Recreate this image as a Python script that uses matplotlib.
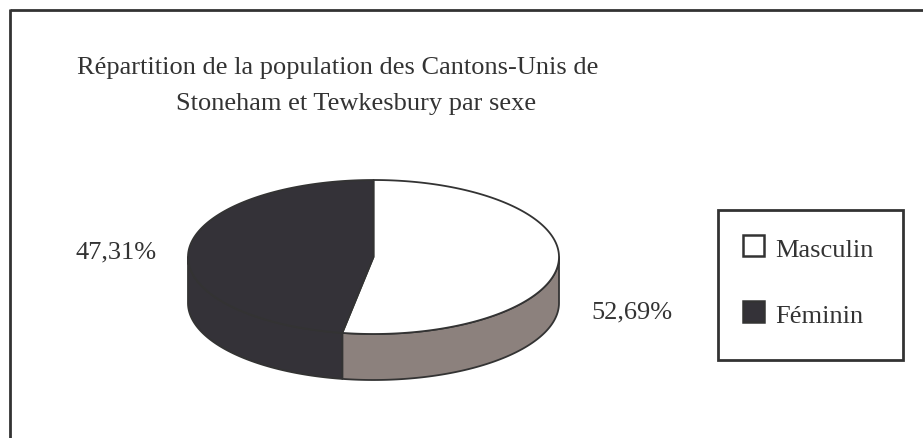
import numpy as np
import matplotlib.pyplot as plt
from matplotlib.patches import Polygon, Rectangle

labels = ['Masculin', 'Féminin']
shares = [52.69, 47.31]
pct_text = ['52,69%', '47,31%']
title_lines = ['Répartition de la population des Cantons-Unis de',
               'Stoneham et Tewkesbury par sexe']

top_cols = ['#ffffff', '#343238']
side_cols = ['#8c817d', '#343238']
edge = '#333333'

plt.rcParams['font.family'] = ['Liberation Serif', 'DejaVu Serif']
fig = plt.figure(figsize=(9.23, 4.38), dpi=100)
ax = fig.add_axes([0, 0, 1, 1])
ax.set_xlim(0, 923)
ax.set_ylim(438, 0)
ax.axis('off')

# outer frame (only top and left edges show)
ax.plot([9.5, 923], [9.5, 9.5], color=edge, lw=2, solid_capstyle='butt')
ax.plot([9.5, 9.5], [9, 438], color=edge, lw=2, solid_capstyle='butt')

ax.text(77, 74, title_lines[0], fontsize=19, color='#333333', va='baseline')
ax.text(176, 110, title_lines[1], fontsize=19, color='#333333', va='baseline')

# 3d pie geometry (pixels)
cx, cy, a, b, depth = 373.5, 257, 185.5, 77, 46


def pt(t, dy=0):
    return cx + a * np.cos(t), cy - b * np.sin(t) + dy


# slice angles: start at top, go clockwise
fr = np.array(shares) / sum(shares)
starts = np.pi / 2 - np.concatenate([[0], np.cumsum(fr)[:-1]]) * 2 * np.pi
ends = starts - fr * 2 * np.pi

# side walls (front half: angles between -pi and 0)
for s, e, col in zip(starts, ends, side_cols):
    lo, hi = e, s
    segs = []
    for shift in (0, 2 * np.pi, -2 * np.pi):
        l, h = max(lo + shift, -np.pi), min(hi + shift, 0)
        if h > l:
            segs.append((l, h))
    for l, h in segs:
        t = np.linspace(l, h, 100)
        x1, y1 = pt(t)
        x2, y2 = pt(t[::-1], depth)
        poly = Polygon(np.column_stack([np.r_[x1, x2], np.r_[y1, y2]]),
                       facecolor=col, edgecolor=edge, lw=1.3, joinstyle='round')
        ax.add_patch(poly)

# top faces
for s, e, col in zip(starts, ends, top_cols):
    t = np.linspace(s, e, 200)
    x, y = pt(t)
    poly = Polygon(np.column_stack([np.r_[cx, x], np.r_[cy, y]]),
                   facecolor=col, edgecolor=edge, lw=1.3, joinstyle='round')
    ax.add_patch(poly)

# percentage labels
ax.text(591, 318, pct_text[0], fontsize=19, color='#333333', va='baseline')
ax.text(76, 258, pct_text[1], fontsize=19, color='#333333', va='baseline')

# legend
ax.add_patch(Rectangle((718, 210), 185, 150, facecolor='white', edgecolor=edge, lw=2))
box_y = [235, 301]
base_y = [257, 323]
for lab, col, by, ty in zip(labels, top_cols, box_y, base_y):
    ax.add_patch(Rectangle((743, by), 21, 21, facecolor=col, edgecolor=edge, lw=1.8))
    ax.text(775, ty, lab, fontsize=19, color='#333333', va='baseline')

fig.savefig('out.png', dpi=100)
